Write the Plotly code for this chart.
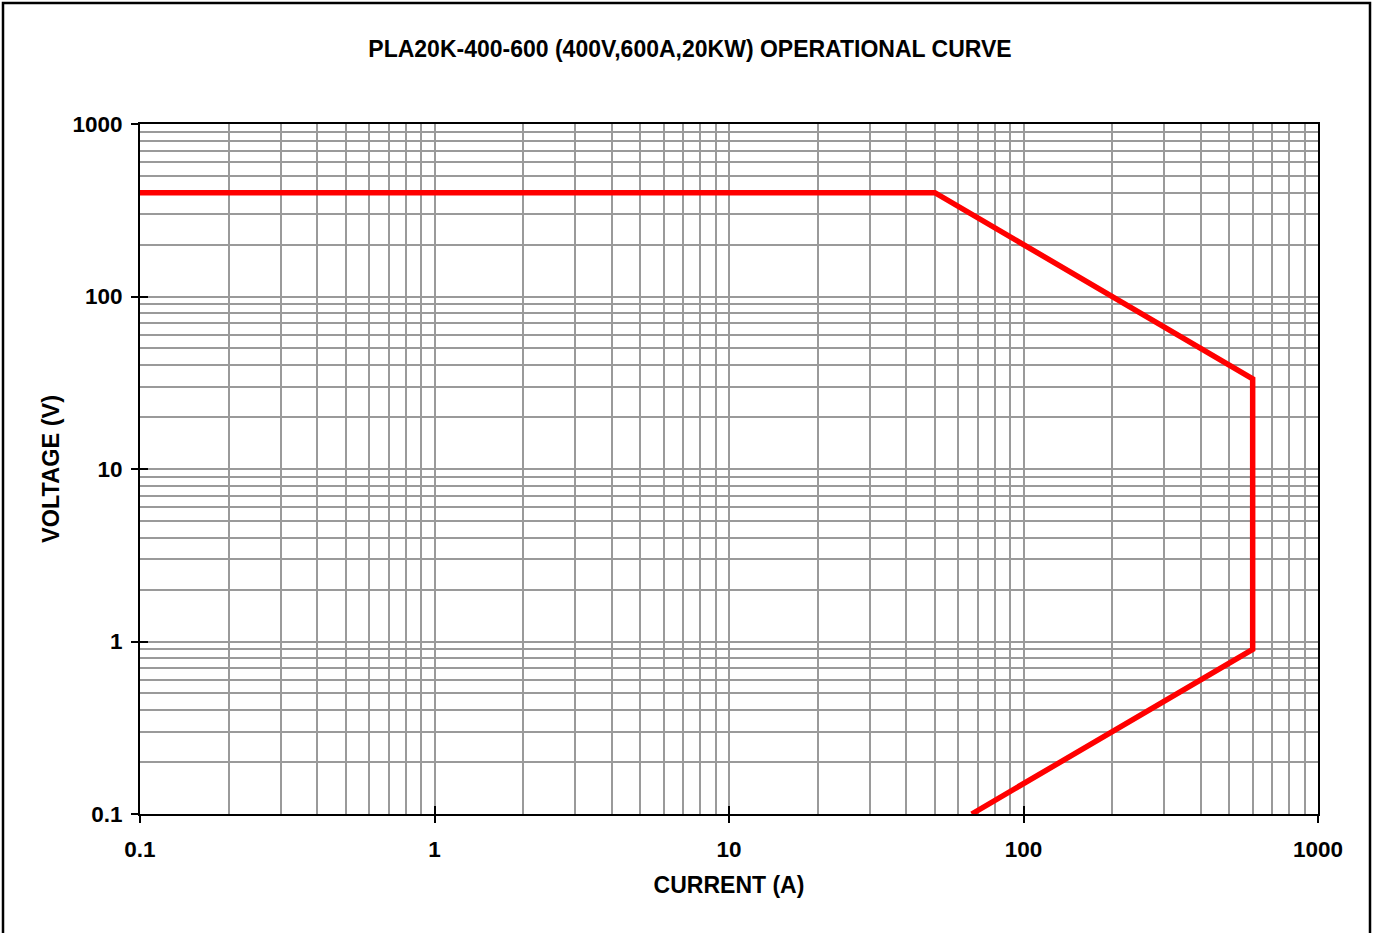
import plotly.graph_objects as go

current_a = [0.1, 50, 600, 600, 66.7]
voltage_v = [400, 400, 33.3, 0.9, 0.1]
x_ticks = [0.1, 1, 10, 100, 1000]
y_ticks = [0.1, 1, 10, 100, 1000]
tick_text = ["0.1", "1", "10", "100", "1000"]

W, H = 1373, 933
L, R, T, B = 140, 55, 124, 119
pw, ph = W - L - R, H - T - B

fam = "Liberation Sans, Arial, sans-serif"
grid_col = "#9a9a9a"

fig = go.Figure()
fig.add_trace(go.Scatter(x=current_a, y=voltage_v, mode="lines",
                         line=dict(color="#ff0000", width=5.5), showlegend=False,
                         hoverinfo="skip"))
# invisible trace to carry the inner-tick overlay axes
fig.add_trace(go.Scatter(x=[current_a[0]], y=[voltage_v[0]], xaxis="x2", yaxis="y2",
                         mode="markers", marker=dict(opacity=0), showlegend=False,
                         hoverinfo="skip"))

tickfont = dict(family=fam, size=22.5, color="black", weight="bold")
axis_common = dict(
    type="log", range=[-1, 3], showline=True, linecolor="black", linewidth=2, mirror=True,
    showgrid=True, gridcolor=grid_col, gridwidth=1.5,
    ticks="outside", ticklen=7, tickwidth=1.5, tickcolor="black",
    tickfont=tickfont,
    minor=dict(dtick="D1", showgrid=True, gridcolor=grid_col, gridwidth=1.5, ticks=""),
    zeroline=False,
)

fig.update_layout(
    xaxis=dict(tickvals=x_ticks, ticktext=tick_text, ticklabelstandoff=7,
               title=dict(text="<b>CURRENT (A)</b>", font=dict(size=23, family=fam, color="black"),
                          standoff=16),
               **axis_common),
    yaxis=dict(tickvals=y_ticks, ticktext=tick_text, ticklabelstandoff=4,
               title=dict(text="<b>VOLTAGE (V)</b>", font=dict(size=23.5, family=fam, color="black"),
                          standoff=6),
               **axis_common),
    xaxis2=dict(type="log", range=[-1, 3], overlaying="x", anchor="y", side="bottom",
                tickvals=x_ticks, showticklabels=False, ticks="inside", ticklen=8,
                tickwidth=1.5, tickcolor="black", showgrid=False, zeroline=False, showline=False),
    yaxis2=dict(type="log", range=[-1, 3], overlaying="y", anchor="x", side="left",
                tickvals=y_ticks, showticklabels=False, ticks="inside", ticklen=8,
                tickwidth=1.5, tickcolor="black", showgrid=False, zeroline=False, showline=False),
)

# outer frame
fig.add_shape(type="rect", xref="paper", yref="paper",
              x0=(3 - L) / pw, x1=(1370 - L) / pw,
              y0=(T + ph - 945) / ph, y1=(T + ph - 3) / ph,
              line=dict(color="black", width=2.5), layer="below")

fig.update_layout(
    width=W, height=H,
    margin=dict(l=L, r=R, t=T, b=B),
    paper_bgcolor="white", plot_bgcolor="white",
    font=dict(family=fam, color="black", size=22),
    title=dict(text="<b>PLA20K-400-600 (400V,600A,20KW) OPERATIONAL CURVE</b>",
               x=690 / W, xanchor="center", y=1 - 49 / H, yanchor="middle",
               font=dict(size=23, family=fam, color="black")),
)

fig.write_html("out.html", config={"displayModeBar": False},
               post_script="document.body.style.margin='0';")
